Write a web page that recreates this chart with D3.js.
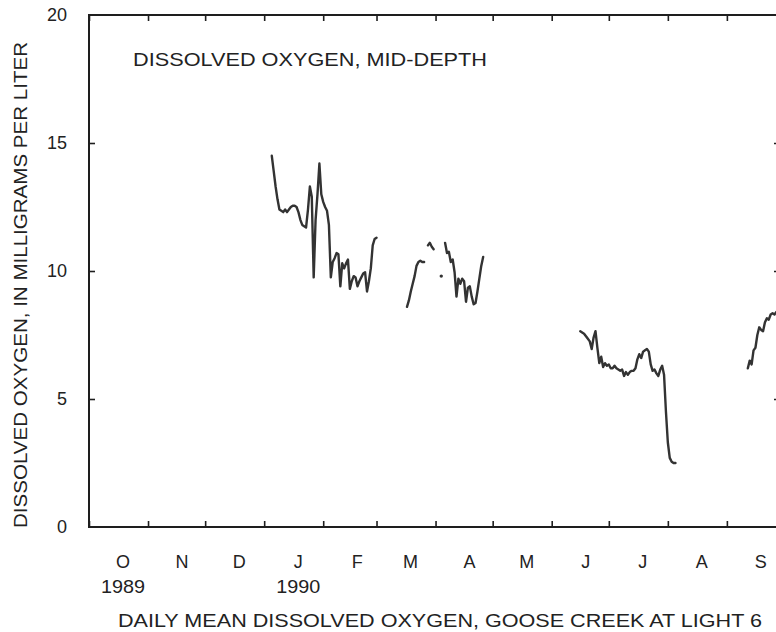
<!DOCTYPE html>
<html>
<head>
<meta charset="utf-8">
<script src="https://cdn.jsdelivr.net/npm/d3@7"></script>
<style>
  html, body { margin: 0; padding: 0; background: #fff; }
  svg { display: block; }
  text { font-family: "Liberation Sans", Arial, Helvetica, sans-serif; fill: #222; }
</style>
</head>
<body>
<svg id="chart" width="776" height="632"></svg>
<script>
// Water year October 1989 - September 1990, daily mean dissolved oxygen (mg/L)
const monthLabels = ["O", "N", "D", "J", "F", "M", "A", "M", "J", "J", "A", "S"];
const yearLabels = ["1989", "1990"];
const yearLabelMonths = ["1989-10-01", "1990-01-01"];
const yTicks = [0, 5, 10, 15, 20];

// Each record is a run of consecutive days starting on the given date
const seg1Start = "1990-01-05";
const seg1Values = [14.5, 13.9, 13.3, 12.8, 12.4, 12.35, 12.3, 12.4, 12.3, 12.4,
  12.5, 12.55, 12.55, 12.5, 12.3, 12.0, 11.8, 11.75, 11.7, 12.4,
  13.3, 12.9, 9.75, 12.0, 13.0, 14.2, 13.0, 12.7, 12.5, 12.35,
  11.8, 9.75, 10.35, 10.5, 10.7, 10.65, 9.4, 10.3, 10.1, 10.3,
  10.45, 9.3, 9.6, 9.8, 9.75, 9.4, 9.6, 9.75, 9.9, 9.95,
  9.2, 9.6, 10.1, 11.0, 11.25, 11.3];

const seg2Start = "1990-03-17";
const seg2Values = [8.6, 8.85, 9.2, 9.5, 9.8, 10.2, 10.35, 10.4, 10.35, 10.35];

const seg3Start = "1990-03-28";
const seg3Values = [11.0, 11.1, 10.95, 10.85];

const seg4Start = "1990-04-04";
const seg4Values = [9.8];

const seg5Start = "1990-04-06";
const seg5Values = [11.1, 10.7, 10.75, 10.35, 10.45, 9.95, 9.0, 9.7, 9.5, 9.7,
  9.6, 8.8, 9.35, 9.4, 9.0, 8.7, 8.75, 9.2, 9.7, 10.2, 10.55];

const seg6Start = "1990-06-16";
const seg6Values = [7.65, 7.6, 7.55, 7.45, 7.35, 7.25, 6.95, 7.4, 7.65, 7.0,
  6.4, 6.65, 6.25, 6.4, 6.3, 6.35, 6.2, 6.2, 6.3, 6.2,
  6.15, 6.1, 6.15, 5.9, 6.05, 5.95, 6.05, 6.1, 6.1, 6.2,
  6.55, 6.75, 6.6, 6.85, 6.9, 6.95, 6.85, 6.35, 6.1, 6.15,
  6.0, 5.9, 6.15, 6.3, 5.95, 4.5, 3.3, 2.7, 2.55, 2.5, 2.5];

const seg7Start = "1990-09-12";
const seg7Values = [6.2, 6.5, 6.35, 6.9, 7.0, 7.5, 7.8, 7.7, 7.65, 8.0,
  8.15, 8.1, 8.3, 8.35, 8.3, 8.4, 8.35, 8.45, 8.4];

const segStarts = [seg1Start, seg2Start, seg3Start, seg4Start, seg5Start, seg6Start, seg7Start];
const segValues = [seg1Values, seg2Values, seg3Values, seg4Values, seg5Values, seg6Values, seg7Values];

const parse = d3.utcParse("%Y-%m-%d");
const runs = segStarts.map((s, i) => {
  const d0 = parse(s);
  return segValues[i].map((v, k) => ({ date: d3.utcDay.offset(d0, k), value: v }));
});

const svg = d3.select("#chart");
const plotLeft = 89, plotRight = 784, plotTop = 15, plotBottom = 527;

const x = d3.scaleUtc()
  .domain([parse("1989-10-01"), parse("1990-10-01")])
  .range([plotLeft, plotRight]);
const y = d3.scaleLinear().domain([0, 20]).range([plotBottom, plotTop]);

const months = d3.utcMonth.range(parse("1989-10-01"), parse("1990-10-01"));

// Frame with inward ticks on all four sides
const axisColor = "#1e1e1e";
function styleAxis(g) {
  g.select(".domain").remove();
  g.selectAll(".tick line").attr("stroke", axisColor).attr("stroke-width", 1.6);
}

svg.append("g")
  .attr("transform", `translate(0,${plotBottom})`)
  .call(d3.axisBottom(x).tickValues(months).tickSizeInner(-6).tickSizeOuter(0).tickFormat(""))
  .call(styleAxis);
svg.append("g")
  .attr("transform", `translate(0,${plotTop})`)
  .call(d3.axisTop(x).tickValues(months).tickSizeInner(-6).tickSizeOuter(0).tickFormat(""))
  .call(styleAxis);

const yAxisL = svg.append("g")
  .attr("transform", `translate(${plotLeft},0)`)
  .call(d3.axisLeft(y).tickValues(yTicks).tickSizeInner(-6).tickSizeOuter(0).tickPadding(22))
  .call(styleAxis);
yAxisL.selectAll(".tick text")
  .attr("fill", "#222").style("font-size", "18px")
  .style("font-family", '"Liberation Sans", Arial, sans-serif');
yAxisL.selectAll(".tick").filter(d => d === 0 || d === 20).select("line").remove();

svg.append("g")
  .attr("transform", `translate(${plotRight},0)`)
  .call(d3.axisRight(y).tickValues(yTicks.filter(d => d > 0 && d < 20)).tickSizeInner(-10).tickSizeOuter(0).tickFormat(""))
  .call(styleAxis);

svg.append("rect")
  .attr("x", plotLeft).attr("y", plotTop)
  .attr("width", plotRight - plotLeft).attr("height", plotBottom - plotTop)
  .attr("fill", "none").attr("stroke", axisColor).attr("stroke-width", 2);

// Month letters and years under the bottom axis
const labelShift = 34;
svg.append("g").selectAll("text")
  .data(months)
  .join("text")
  .attr("x", d => x(d) + labelShift)
  .attr("y", 568)
  .attr("text-anchor", "middle")
  .style("font-size", "18px")
  .text((d, i) => monthLabels[i]);

svg.append("g").selectAll("text")
  .data(yearLabelMonths)
  .join("text")
  .attr("x", d => x(parse(d)) + labelShift)
  .attr("y", 593)
  .attr("text-anchor", "middle")
  .style("font-size", "19px")
  .attr("textLength", 44).attr("lengthAdjust", "spacingAndGlyphs")
  .text((d, i) => yearLabels[i]);

// Data runs
const line = d3.line()
  .x(d => x(d.date))
  .y(d => y(d.value));

const dataG = svg.append("g");
runs.forEach(run => {
  if (run.length > 1) {
    dataG.append("path")
      .datum(run)
      .attr("d", line)
      .attr("fill", "none")
      .attr("stroke", "#333")
      .attr("stroke-width", 2.4)
      .attr("stroke-linejoin", "round")
      .attr("stroke-linecap", "round");
  } else {
    dataG.append("circle")
      .attr("cx", x(run[0].date))
      .attr("cy", y(run[0].value))
      .attr("r", 1.7)
      .attr("fill", "#333");
  }
});

// Titles
svg.append("text")
  .attr("x", 133).attr("y", 66)
  .style("font-size", "19px")
  .attr("textLength", 354).attr("lengthAdjust", "spacingAndGlyphs")
  .text("DISSOLVED OXYGEN, MID-DEPTH");

svg.append("text")
  .attr("transform", "translate(27,285) rotate(-90)")
  .attr("text-anchor", "middle")
  .style("font-size", "19px")
  .attr("textLength", 486).attr("lengthAdjust", "spacingAndGlyphs")
  .text("DISSOLVED OXYGEN, IN MILLIGRAMS PER LITER");

svg.append("text")
  .attr("x", 440).attr("y", 627)
  .attr("text-anchor", "middle")
  .style("font-size", "19px")
  .attr("textLength", 644).attr("lengthAdjust", "spacingAndGlyphs")
  .text("DAILY MEAN DISSOLVED OXYGEN, GOOSE CREEK AT LIGHT 6");
</script>
</body>
</html>
